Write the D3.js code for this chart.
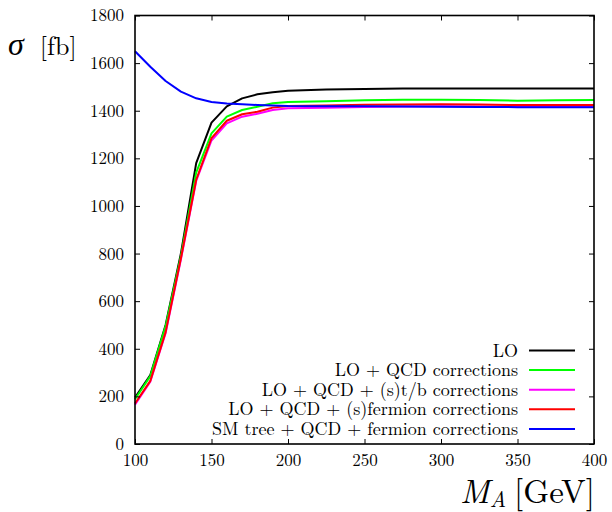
<!DOCTYPE html>
<html>
<head>
<style>
  body { margin: 0; background: #fff; }
</style>
<script src="https://d3js.org/d3.v7.min.js"></script>
</head>
<body>
<script>
// M_A grid (GeV)
const massA = [100, 110, 120, 130, 140, 150, 160, 170, 180, 190, 200, 225, 250, 275, 300, 325, 350, 375, 400];
// cross sections in fb
const sigmaLO   = [195, 290, 500, 800, 1180, 1350, 1418, 1452, 1469, 1478, 1484, 1489, 1491, 1493, 1493, 1493, 1493, 1493, 1493];
const sigmaQCD  = [188, 285, 495, 790, 1140, 1305, 1375, 1403, 1417, 1431, 1437, 1440, 1444, 1446, 1446, 1445, 1442, 1444, 1445];
const sigmaStb  = [165, 262, 465, 775, 1105, 1275, 1347, 1375, 1387, 1403, 1410, 1412, 1416, 1418, 1419, 1418, 1417, 1418, 1419];
const sigmaSf   = [170, 265, 470, 780, 1110, 1285, 1358, 1385, 1396, 1413, 1420, 1422, 1425, 1426, 1427, 1426, 1424, 1424, 1424];
const sigmaSM   = [1650, 1585, 1525, 1480, 1452, 1437, 1430, 1427, 1424, 1422, 1420, 1419, 1419, 1418, 1417, 1416, 1415, 1415, 1415];

const seriesNames = ["LO", "LO + QCD corrections", "LO + QCD + (s)t/b corrections",
                     "LO + QCD + (s)fermion corrections", "SM tree + QCD + fermion corrections"];
const seriesValues = [sigmaLO, sigmaQCD, sigmaStb, sigmaSf, sigmaSM];
const seriesColors = ["#000000", "#00ff00", "#ff00ff", "#ff0000", "#0000ff"];

const xTicks = [100, 150, 200, 250, 300, 350, 400];
const yTicks = [0, 200, 400, 600, 800, 1000, 1200, 1400, 1600, 1800];

const w = 612, h = 512;
const mLeft = 135, mRight = 594, mTop = 15.5, mBottom = 444;
const serif = '"Latin Modern Roman", "Liberation Serif", serif';

const svg = d3.select("body").append("svg")
  .attr("width", w).attr("height", h);

const x = d3.scaleLinear().domain([100, 400]).range([mLeft, mRight]);
const y = d3.scaleLinear().domain([0, 1800]).range([mBottom, mTop]);

// curves
const line = d3.line().x((d, i) => x(massA[i])).y(d => y(d));
seriesValues.forEach((vals, k) => {
  svg.append("path")
    .datum(vals)
    .attr("d", line)
    .attr("fill", "none")
    .attr("stroke", seriesColors[k])
    .attr("stroke-width", 2)
    .attr("stroke-linejoin", "round");
});

// axes with inward ticks, mirrored
const tk = 5;
const fs = 17;
const fmt = d3.format("d");
svg.append("g").attr("transform", `translate(0,${mBottom})`)
  .call(d3.axisBottom(x).tickValues(xTicks).tickFormat(fmt).tickSizeInner(-tk).tickSizeOuter(0).tickPadding(10))
  .call(g => g.select(".domain").remove())
  .call(g => g.selectAll("text").attr("fill", "#000").style("font-size", fs + "px").style("font-family", serif).attr("dy", "0.71em"));
svg.append("g").attr("transform", `translate(0,${mTop})`)
  .call(d3.axisTop(x).tickValues(xTicks).tickSizeInner(-tk).tickSizeOuter(0).tickFormat(""))
  .call(g => g.select(".domain").remove());
svg.append("g").attr("transform", `translate(${mLeft},0)`)
  .call(d3.axisLeft(y).tickValues(yTicks).tickFormat(fmt).tickSizeInner(-tk).tickSizeOuter(0).tickPadding(11))
  .call(g => g.select(".domain").remove())
  .call(g => g.selectAll("text").attr("fill", "#000").style("font-size", fs + "px").style("font-family", serif));
svg.append("g").attr("transform", `translate(${mRight},0)`)
  .call(d3.axisRight(y).tickValues(yTicks).tickSizeInner(-tk).tickSizeOuter(0).tickFormat(""))
  .call(g => g.select(".domain").remove());
svg.selectAll(".tick line").attr("stroke", "#000").attr("stroke-width", 1);

// frame
svg.append("rect")
  .attr("x", mLeft).attr("y", mTop)
  .attr("width", mRight - mLeft).attr("height", mBottom - mTop)
  .attr("fill", "none").attr("stroke", "#000").attr("stroke-width", 1.6);

// legend
const legY0 = 350.5, legDy = 19.6;
seriesNames.forEach((name, i) => {
  const yy = legY0 + i * legDy;
  svg.append("text")
    .attr("x", 518).attr("y", yy + 6)
    .attr("text-anchor", "end")
    .style("font-family", serif)
    .style("font-size", "18px")
    .text(name);
  svg.append("line")
    .attr("x1", 529).attr("x2", 575)
    .attr("y1", yy).attr("y2", yy)
    .attr("stroke", seriesColors[i]).attr("stroke-width", 2);
});

// axis titles
const yt = svg.append("text").attr("x", 8).attr("y", 55)
  .style("font-family", serif).style("font-size", "26px");
yt.append("tspan").style("font-family", '"Liberation Serif", serif')
  .style("font-style", "italic").style("font-size", "32px").text("σ");
yt.append("tspan").attr("dx", 16).text("[fb]");

const xt = svg.append("text").attr("x", 595).attr("y", 503)
  .attr("text-anchor", "end").style("font-family", serif).style("font-size", "33px");
xt.append("tspan").style("font-style", "italic").text("M");
xt.append("tspan").style("font-style", "italic").style("font-size", "22px").attr("dy", 4).text("A");
xt.append("tspan").attr("dy", -4).attr("dx", 8).text("[GeV]");
</script>
</body>
</html>
